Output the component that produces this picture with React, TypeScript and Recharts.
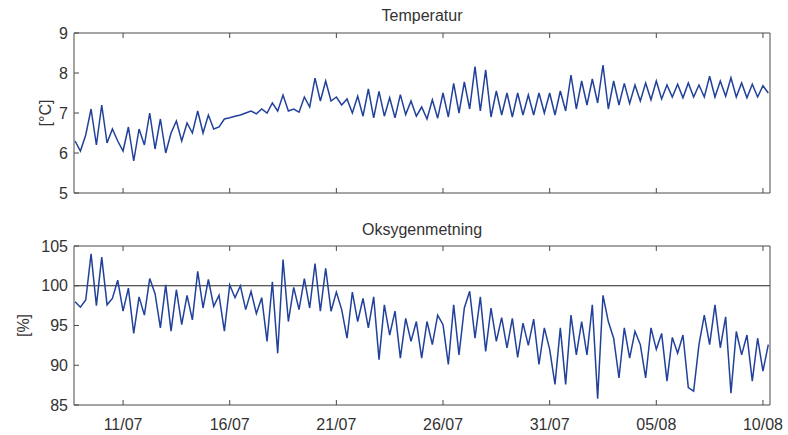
import { LineChart, Line, XAxis, YAxis, ReferenceLine } from 'recharts';

// sampling: every 6 h, day-of-month counted from 1 July (32 = 1 Aug)
const SAMPLE_START = 8.75;
const SAMPLE_STEP = 0.25;

const dateTicks = [11, 16, 21, 26, 31, 36, 41];
const dateLabels = ['11/07', '16/07', '21/07', '26/07', '31/07', '05/08', '10/08'];

const tempTicks = [5, 6, 7, 8, 9];
const oxyTicks = [85, 90, 95, 100, 105];

// [°C], 4 values per day
const temperature = [
  6.3,
  6.05, 6.45, 7.1, 6.2, // 9
  7.2, 6.25, 6.6, 6.3, // 10
  6.05, 6.65, 5.8, 6.6, // 11
  6.2, 7.0, 6.1, 6.85, // 12
  6.0, 6.5, 6.8, 6.3, // 13
  6.75, 6.5, 7.05, 6.5, // 14
  6.95, 6.6, 6.65, 6.85, // 15
  6.88, 6.92, 6.95, 7.0, // 16
  7.05, 6.98, 7.1, 7.0, // 17
  7.25, 7.05, 7.45, 7.05, // 18
  7.1, 7.02, 7.4, 7.15, // 19
  7.87, 7.3, 7.8, 7.3, // 20
  7.4, 7.2, 7.35, 7.0, // 21
  7.42, 6.92, 7.6, 6.88, // 22
  7.54, 6.92, 7.38, 6.88, // 23
  7.46, 6.96, 7.3, 6.92, // 24
  7.15, 6.85, 7.33, 6.87, // 25
  7.5, 6.9, 7.74, 7.0, // 26
  7.78, 7.1, 8.16, 7.05, // 27
  8.08, 6.9, 7.55, 6.95, // 28
  7.5, 6.9, 7.5, 6.95, // 29
  7.45, 6.95, 7.5, 7.0, // 30
  7.5, 6.95, 7.55, 7.05, // 31
  7.95, 7.1, 7.8, 7.2, // 01/08
  7.85, 7.25, 8.2, 7.1, // 02/08
  7.8, 7.2, 7.74, 7.24, // 03/08
  7.7, 7.3, 7.75, 7.33, // 04/08
  7.8, 7.35, 7.7, 7.4, // 05/08
  7.72, 7.38, 7.75, 7.4, // 06/08
  7.7, 7.4, 7.92, 7.4, // 07/08
  7.8, 7.42, 7.88, 7.4, // 08/08
  7.75, 7.38, 7.72, 7.4, // 09/08
  7.68, 7.5, // 10/08
];

// [%], same sampling
const oxygen = [
  98.0,
  97.3, 98.2, 104.0, 97.5, // 9
  103.6, 97.6, 98.4, 100.7, // 10
  96.8, 99.7, 94.0, 98.6, // 11
  96.3, 100.9, 99.0, 94.7, // 12
  100.1, 94.3, 99.5, 95.1, // 13
  98.8, 95.7, 101.8, 97.2, // 14
  100.8, 97.4, 98.8, 94.3, // 15
  100.1, 98.5, 100.0, 97.0, // 16
  99.3, 96.5, 98.5, 93.0, // 17
  100.5, 91.5, 103.3, 95.5, // 18
  99.8, 97.0, 100.9, 97.2, // 19
  102.8, 96.8, 102.2, 96.8, // 20
  99.2, 97.0, 93.4, 99.2, // 21
  95.5, 98.4, 94.7, 98.6, // 22
  90.7, 97.6, 93.8, 96.8, // 23
  90.9, 95.9, 93.0, 95.5, // 24
  90.9, 95.5, 92.6, 96.3, // 25
  95.1, 90.1, 97.6, 91.3, // 26
  97.2, 99.3, 93.4, 98.6, // 27
  91.75, 97.2, 93.0, 96.0, // 28
  92.2, 95.9, 91.0, 95.3, // 29
  92.5, 95.8, 90.1, 94.7, // 30
  92.0, 87.6, 94.7, 87.6, // 31
  96.3, 91.3, 95.5, 91.3, // 01/08
  97.6, 85.8, 98.8, 95.5, // 02/08
  93.4, 88.4, 94.7, 90.9, // 03/08
  94.25, 92.6, 88.4, 94.7, // 04/08
  92.0, 94.0, 88.0, 93.5, // 05/08
  91.5, 93.8, 87.2, 86.75, // 06/08
  92.6, 96.3, 92.6, 97.6, // 07/08
  92.2, 96.1, 86.5, 94.25, // 08/08
  91.3, 93.8, 88.0, 93.4, // 09/08
  89.25, 92.6, // 10/08
];

const rows = temperature.map((v, i) => ({
  t: SAMPLE_START + i * SAMPLE_STEP,
  temp: v,
  oxy: oxygen[i],
}));

const FONT = '"Liberation Sans", Arial, sans-serif';
const TEXT = '#333';
const FRAME = '#4a4a4a';
const LINE = '#21419a';
const X_DOMAIN: [number, number] = [8.7, 41.33];

const tickStyle = { fill: TEXT, fontSize: 16, fontFamily: FONT };
const fmtDate = (v: number) => dateLabels[dateTicks.indexOf(v)] ?? '';

function Title({ text, top }: { text: string; top: number }) {
  return (
    <div style={{
      position: 'absolute', top, left: 74, width: 696, textAlign: 'center',
      fontFamily: FONT, fontSize: 16, color: TEXT, lineHeight: '18px',
    }}>
      {text}
    </div>
  );
}

function Panel({ dataKey, yDomain, yTicks, yLabel, labelDx, height, top, bottom, showDates }: {
  dataKey: string;
  yDomain: [number, number];
  yTicks: number[];
  yLabel: string;
  labelDx: number;
  height: number;
  top: number;
  bottom: number;
  showDates: boolean;
}) {
  const frame = { stroke: FRAME, strokeWidth: 1 };
  return (
    <LineChart width={788} height={height} data={rows} margin={{ top: top - 1, right: 17, left: 0, bottom: 0 }}>
      <XAxis
        xAxisId="b"
        dataKey="t"
        type="number"
        domain={X_DOMAIN}
        allowDataOverflow
        ticks={dateTicks}
        interval={0}
        tickFormatter={showDates ? fmtDate : () => ''}
        tick={tickStyle}
        tickSize={-5}
        tickMargin={19}
        axisLine={frame}
        tickLine={frame}
        height={bottom}
      />
      <XAxis
        xAxisId="t"
        orientation="top"
        dataKey="t"
        type="number"
        domain={X_DOMAIN}
        allowDataOverflow
        ticks={dateTicks}
        interval={0}
        tickFormatter={() => ''}
        tickSize={-5}
        axisLine={frame}
        tickLine={frame}
        height={1}
      />
      <YAxis
        yAxisId="l"
        type="number"
        domain={yDomain}
        ticks={yTicks}
        interval={0}
        tick={tickStyle}
        tickSize={-5}
        tickMargin={11}
        axisLine={frame}
        tickLine={frame}
        width={74}
        label={{ value: yLabel, angle: -90, position: 'center', dx: labelDx, fill: TEXT, fontSize: 16, fontFamily: FONT }}
      />
      <YAxis
        yAxisId="r"
        orientation="right"
        type="number"
        domain={yDomain}
        ticks={yTicks}
        interval={0}
        tickFormatter={() => ''}
        tickSize={-5}
        axisLine={frame}
        tickLine={frame}
        width={1}
      />
      {dataKey === 'oxy' && (
        <ReferenceLine xAxisId="b" yAxisId="l" y={100} stroke="#222" strokeWidth={1.2} />
      )}
      <Line
        xAxisId="b"
        yAxisId="l"
        type="linear"
        dataKey={dataKey}
        stroke={LINE}
        strokeWidth={1.5}
        dot={false}
        isAnimationActive={false}
      />
    </LineChart>
  );
}

export default function App() {
  return (
    <div style={{ position: 'absolute', left: 0, top: 0, width: 788, height: 435, background: '#fff' }}>
      <Title text="Temperatur" top={7} />
      <Title text="Oksygenmetning" top={221} />
      <div style={{ position: 'absolute', left: 0, top: 0 }}>
        <Panel dataKey="temp" yDomain={[5, 9]} yTicks={tempTicks} yLabel="[°C]" labelDx={8}
          height={210} top={33} bottom={17} showDates={false} />
      </div>
      <div style={{ position: 'absolute', left: 0, top: 210 }}>
        <Panel dataKey="oxy" yDomain={[85, 105]} yTicks={oxyTicks} yLabel="[%]" labelDx={-14}
          height={225} top={36} bottom={30} showDates />
      </div>
    </div>
  );
}
